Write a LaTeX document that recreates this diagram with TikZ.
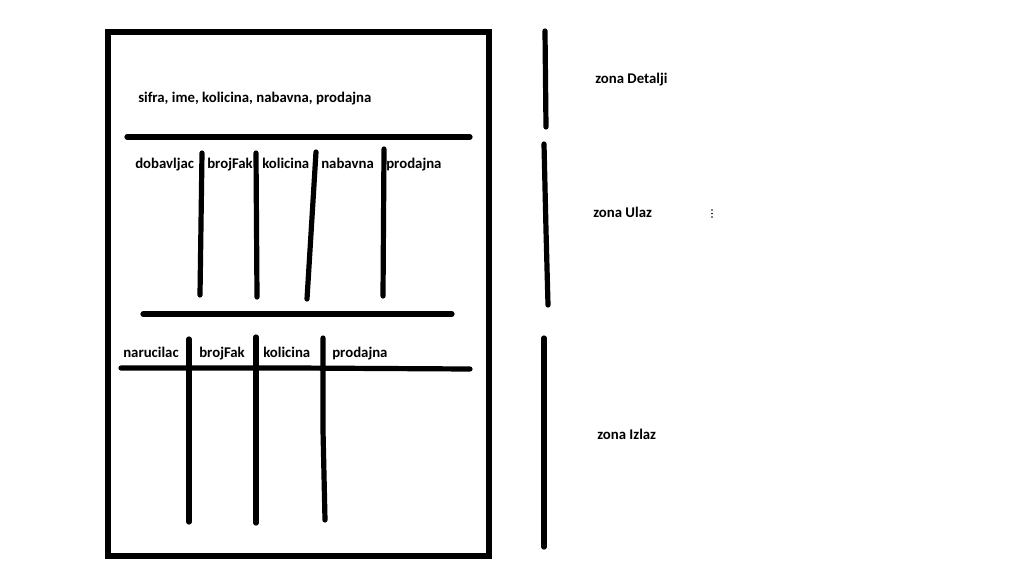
\documentclass[tikz,border=0pt]{standalone}
\usepackage{fontspec}
\setmainfont{Carlito}
\begin{document}
\begin{tikzpicture}[x=0.75pt,y=-0.75pt,
  pen/.style={line width=3.9pt,line cap=round,line join=round},
  lbl/.style={anchor=base west,inner sep=0pt,font=\bfseries\fontsize{11.1pt}{13pt}\selectfont}]
\useasboundingbox (0,0) rectangle (1014,565);
% outer frame
\draw[pen,line cap=butt,line join=miter] (108,32) rectangle (489,556);
% separators
\draw[pen] (127,137) -- (470,137);
\draw[pen] (143,314) -- (452,314);
\draw[pen] (121,368) -- (295,368) -- (470,369);
% Ulaz columns
\draw[pen] (202,153) -- (200,295);
\draw[pen] (256,153) -- (257,297);
\draw[pen] (316,152) -- (307,299);
\draw[pen] (384,149) -- (383,296);
% Izlaz columns
\draw[pen] (189,339) -- (189,522);
\draw[pen] (256,337) -- (256,523);
\draw[pen] (323,338) -- (323,430) -- (325,520);
% zone markers
\draw[pen] (545,31) -- (546,127);
\draw[pen] (544,144) -- (546,230) -- (548,305);
\draw[pen] (544,338) -- (544,547);
% texts
\node[lbl] (det) at (138,102) {sifra, ime, kolicina, nabavna, prodajna};
\node[lbl] (u1) at (135,168) {dobavljac};
\node[lbl] (u2) at (207,168) {brojFak};
\node[lbl] (u3) at (262,168) {kolicina};
\node[lbl] (u4) at (321,168) {nabavna};
\node[lbl] (u5) at (386,168) {prodajna};
\node[lbl] (i1) at (123,357) {narucilac};
\node[lbl] (i2) at (199,357) {brojFak};
\node[lbl] (i3) at (263,357) {kolicina};
\node[lbl] (i4) at (332,357) {prodajna};
\node[lbl] (zd) at (595,83) {zona Detalji};
\node[lbl] (zu) at (593,217) {zona Ulaz};
\node[lbl] (zi) at (597,439) {zona Izlaz};
% small dots
\foreach \yy in {210,213.5,217} \fill (712,\yy) circle (0.9);
\end{tikzpicture}
\end{document}
